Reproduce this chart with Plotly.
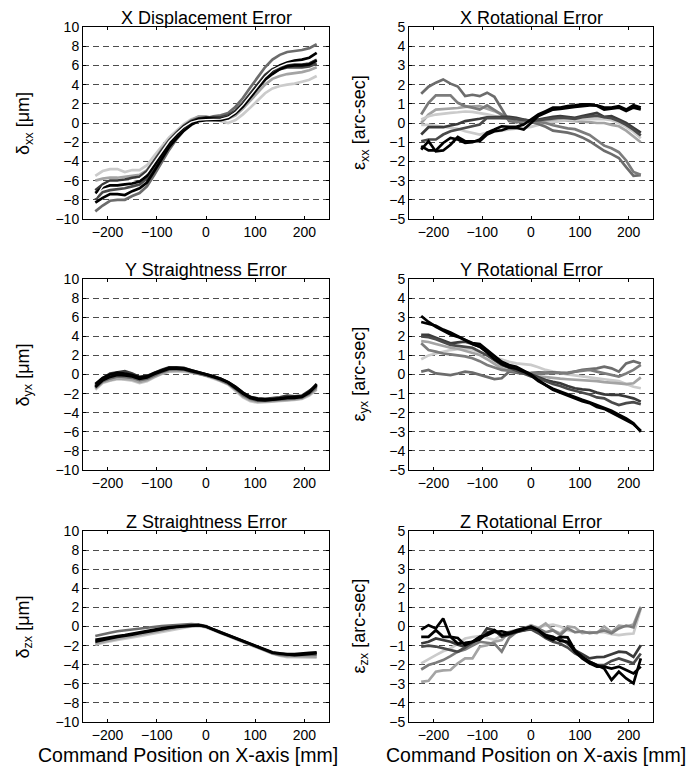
import plotly.graph_objects as go

# ---------------- data ----------------
positions = [-225, -210, -195, -180, -165, -150, -135, -120, -105, -90, -75, -60, -45, -30, -15,
             0, 15, 30, 45, 60, 75, 90, 105, 120, 135, 150, 165, 180, 195, 210, 225]

x_ticks = [-200, -100, 0, 100, 200]
micron_ticks = [-10, -8, -6, -4, -2, 0, 2, 4, 6, 8, 10]
arcsec_ticks = [-5, -4, -3, -2, -1, 0, 1, 2, 3, 4, 5]

panel_titles = ["X Displacement Error", "X Rotational Error",
                "Y Straightness Error", "Y Rotational Error",
                "Z Straightness Error", "Z Rotational Error"]
y_titles = ["δ<sub>xx</sub> [μm]", "ε<sub>xx</sub> [arc-sec]",
            "δ<sub>yx</sub> [μm]", "ε<sub>yx</sub> [arc-sec]",
            "δ<sub>zx</sub> [μm]", "ε<sub>zx</sub> [arc-sec]"]
x_title = "Command Position on X-axis [mm]"

# X displacement error [um]
xd_lightest = [-5.5, -5.0, -4.8, -4.8, -5.1, -4.9, -4.9, -4.4, -3.4, -2.4, -1.5, -0.8, -0.1, 0.4, 0.65,
               0.6, 0.4, 0.2, 0.0, 0.3, 0.9, 1.6, 2.4, 3.1, 3.6, 3.85, 4.0, 4.1, 4.3, 4.5, 4.9]
xd_light = [-6.0, -5.8, -5.7, -5.7, -5.6, -5.5, -5.4, -4.9, -3.9, -2.7, -1.8, -1.0, -0.3, 0.3, 0.7,
            0.7, 0.5, 0.4, 0.45, 0.8, 1.5, 2.3, 3.2, 4.0, 4.6, 4.9, 5.1, 5.2, 5.3, 5.5, 5.8]
xd_mid = [-9.2, -8.6, -8.1, -8.0, -8.0, -7.6, -7.3, -6.6, -5.4, -4.1, -2.8, -1.7, -0.8, -0.1, 0.3,
          0.5, 0.7, 0.8, 1.05, 1.7, 2.6, 3.7, 4.8, 5.8, 6.6, 7.1, 7.4, 7.5, 7.6, 7.8, 8.2]
xd_dark1 = [-7.0, -6.4, -6.0, -6.0, -5.9, -5.7, -5.6, -5.0, -3.9, -2.8, -1.8, -1.0, -0.3, 0.2, 0.5,
            0.6, 0.6, 0.6, 0.8, 1.3, 2.1, 3.1, 4.1, 5.0, 5.6, 5.9, 6.1, 6.1, 6.1, 6.2, 6.6]
xd_dark2 = [-8.0, -7.2, -7.0, -6.9, -6.8, -6.6, -6.4, -5.8, -4.6, -3.4, -2.3, -1.4, -0.6, -0.1, 0.3,
            0.4, 0.4, 0.5, 0.7, 1.2, 2.0, 2.9, 3.8, 4.7, 5.3, 5.6, 5.8, 5.8, 5.8, 5.9, 6.2]
xd_black1 = [-7.3, -6.7, -6.5, -6.5, -6.4, -6.3, -6.1, -5.5, -4.4, -3.2, -2.1, -1.2, -0.4, 0.1, 0.4,
             0.5, 0.45, 0.4, 0.6, 1.1, 1.9, 2.9, 3.9, 4.8, 5.5, 6.0, 6.3, 6.5, 6.6, 6.8, 7.3]
xd_black2 = [-8.3, -7.8, -7.4, -7.4, -7.5, -7.1, -6.8, -6.2, -5.0, -3.7, -2.5, -1.6, -0.8, -0.2, 0.2,
             0.3, 0.3, 0.3, 0.5, 1.0, 1.7, 2.7, 3.6, 4.5, 5.1, 5.6, 5.9, 6.0, 6.0, 6.1, 6.5]
xd_white = [-7.8, -6.6, -6.2, -6.2, -6.1, -6.0, -5.8, -5.2, -4.1, -3.0, -1.9, -1.1, -0.4, 0.1, 0.3,
            0.35, 0.35, 0.4, 0.6, 1.1, 1.9, 2.9, 3.9, 4.8, 5.5, 5.9, 6.2, 6.3, 6.3, 6.5, 6.9]

# X rotational error [arc-sec]
xr_light1 = [0.0, 0.44, 0.7, 0.72, 0.74, 0.78, 0.84, 0.86, 0.88, 0.75, 0.62, 0.44, 0.27, 0.18, 0.15,
             0.1, 0.1, 0.12, 0.15, 0.15, 0.12, 0.1, 0.1, 0.05, 0.0, 0.0, -0.1, -0.17, -0.4, -0.7, -1.0]
xr_light2 = [0.18, 0.35, 0.44, 0.5, 0.53, 0.56, 0.6, 0.58, 0.53, 0.45, 0.36, 0.25, 0.2, 0.15, 0.15,
             0.1, 0.15, 0.2, 0.25, 0.25, 0.2, 0.2, 0.25, 0.3, 0.3, 0.25, 0.2, 0.1, -0.05, -0.3, -0.55]
xr_light3 = [-0.1, -0.1, -0.15, -0.2, -0.25, -0.3, -0.43, -0.5, -0.6, -0.5, -0.43, -0.4, -0.34, -0.3, -0.25,
             -0.2, -0.1, 0.0, 0.05, 0.1, 0.15, 0.15, 0.2, 0.2, 0.2, 0.2, 0.15, 0.0, -0.2, -0.45, -0.8]
xr_mid1 = [1.52, 1.89, 2.1, 2.27, 2.05, 1.9, 1.4, 1.47, 1.4, 1.58, 1.37, 0.7, 0.1, 0.05, 0.1,
           0.05, -0.05, -0.2, -0.4, -0.45, -0.5, -0.6, -0.75, -0.95, -1.2, -1.45, -1.62, -1.82, -2.3, -2.75, -2.72]
xr_mid2 = [0.44, 1.05, 1.44, 1.44, 1.44, 1.05, 0.88, 0.8, 0.7, 0.92, 0.7, 0.44, 0.18, 0.05, 0.1,
           0.12, 0.05, 0.0, -0.12, -0.22, -0.28, -0.32, -0.45, -0.62, -0.9, -1.18, -1.32, -1.52, -1.95, -2.55, -2.7]
xr_dark1 = [-0.6, -0.22, -0.22, -0.22, -0.13, -0.05, 0.1, 0.15, 0.22, 0.3, 0.32, 0.32, 0.32, 0.27, 0.18,
            0.1, 0.18, 0.27, 0.32, 0.36, 0.32, 0.27, 0.36, 0.44, 0.53, 0.32, 0.36, 0.18, 0.0, -0.25, -0.5]
xr_dark2 = [-0.95, -0.86, -0.86, -0.6, -0.43, -0.34, -0.25, -0.17, -0.08, 0.27, 0.27, 0.28, 0.25, 0.2, 0.15,
            0.12, 0.15, 0.2, 0.25, 0.28, 0.25, 0.22, 0.3, 0.35, 0.38, 0.3, 0.25, 0.1, -0.1, -0.35, -0.65]
xr_black1 = [-1.39, -0.95, -1.48, -1.43, -1.13, -0.73, -0.95, -0.95, -0.95, -0.6, -0.43, -0.38, -0.25, -0.25, -0.34,
             0.0, 0.36, 0.53, 0.7, 0.74, 0.8, 0.84, 0.88, 0.92, 0.92, 0.8, 0.8, 0.88, 0.7, 0.92, 0.8]
xr_black2 = [-1.2, -1.43, -1.43, -1.04, -0.78, -0.86, -1.04, -1.0, -0.86, -0.5, -0.34, -0.17, -0.2, -0.2, -0.08,
             0.18, 0.44, 0.62, 0.8, 0.8, 0.88, 0.92, 0.97, 0.97, 0.9, 0.7, 0.74, 0.8, 0.62, 0.8, 0.7]

# Y straightness error [um]
ys_light2 = [-1.6, -0.9, -0.65, -0.5, -0.55, -0.65, -0.9, -0.7, -0.3, 0.05, 0.3, 0.35, 0.3, 0.2, 0.05,
             -0.15, -0.4, -0.7, -1.05, -1.7, -2.4, -2.8, -2.95, -2.9, -2.85, -2.8, -2.7, -2.65, -2.55, -2.2, -1.6]
ys_light1 = [-1.5, -0.8, -0.6, -0.4, -0.45, -0.55, -0.8, -0.6, -0.25, 0.1, 0.35, 0.4, 0.4, 0.25, 0.1,
             -0.1, -0.35, -0.65, -1.0, -1.6, -2.3, -2.7, -2.85, -2.85, -2.8, -2.7, -2.65, -2.6, -2.5, -2.1, -1.5]
ys_mid = [-1.4, -0.7, -0.4, -0.2, -0.25, -0.35, -0.6, -0.45, -0.1, 0.25, 0.5, 0.55, 0.5, 0.3, 0.15,
          -0.05, -0.3, -0.6, -0.95, -1.5, -2.15, -2.55, -2.75, -2.75, -2.7, -2.6, -2.55, -2.5, -2.4, -2.0, -1.3]
ys_dark = [-1.2, -0.4, 0.1, 0.25, 0.35, 0.1, -0.25, -0.15, 0.2, 0.5, 0.75, 0.75, 0.7, 0.45, 0.25,
           0.05, -0.2, -0.45, -0.8, -1.3, -1.9, -2.35, -2.5, -2.55, -2.5, -2.4, -2.2, -2.3, -2.2, -1.7, -1.2]
ys_black2 = [-1.3, -0.6, -0.25, -0.05, -0.1, -0.2, -0.45, -0.3, 0.05, 0.35, 0.6, 0.6, 0.55, 0.35, 0.2,
             0.0, -0.25, -0.5, -0.85, -1.4, -2.0, -2.45, -2.65, -2.7, -2.65, -2.55, -2.45, -2.45, -2.35, -1.9, -1.1]
ys_black1 = [-1.0, -0.35, 0.0, 0.2, 0.1, -0.05, -0.3, -0.2, 0.15, 0.45, 0.7, 0.72, 0.65, 0.45, 0.25,
             0.05, -0.2, -0.45, -0.8, -1.3, -1.9, -2.35, -2.55, -2.6, -2.6, -2.5, -2.4, -2.35, -2.3, -1.8, -1.0]

# Y rotational error [arc-sec]
yr_light2 = [0.8, 1.0, 1.1, 1.2, 1.28, 1.33, 1.37, 1.3, 1.15, 1.02, 0.9, 0.76, 0.66, 0.58, 0.55,
             0.5, 0.38, 0.24, 0.15, 0.06, 0.0, -0.05, -0.11, -0.15, -0.2, -0.25, -0.29, -0.35, -0.5, -0.64, -0.72]
yr_light1 = [1.75, 1.7, 1.6, 1.5, 1.4, 1.35, 1.25, 1.15, 1.02, 0.8, 0.55, 0.32, 0.2, 0.1, 0.05,
             0.0, -0.1, -0.15, -0.2, -0.22, -0.25, -0.27, -0.29, -0.3, -0.35, -0.4, -0.45, -0.46, -0.5, -0.46, -0.15]
yr_mid1 = [0.15, 0.24, 0.06, 0.0, -0.03, 0.05, 0.15, 0.1, 0.0, -0.1, -0.24, -0.2, 0.15, 0.1, 0.06,
           0.08, 0.11, 0.1, 0.11, 0.08, 0.06, 0.15, 0.24, 0.28, 0.32, 0.41, 0.32, 0.15, 0.58, 0.7, 0.58]
yr_mid2 = [1.63, 1.28, 1.2, 1.1, 1.05, 1.02, 0.95, 0.85, 0.7, 0.5, 0.35, 0.24, 0.2, 0.15, 0.1,
           0.06, 0.05, 0.06, 0.06, 0.06, 0.1, 0.15, 0.2, 0.24, 0.15, 0.06, 0.0, -0.11, 0.05, 0.24, 0.5]
yr_dark1 = [2.07, 2.07, 1.93, 1.8, 1.63, 1.68, 1.72, 1.6, 1.46, 1.2, 0.85, 0.6, 0.41, 0.25, 0.15,
            0.0, -0.15, -0.29, -0.38, -0.46, -0.6, -0.72, -0.78, -0.81, -0.95, -1.04, -1.07, -1.07, -1.15, -1.25, -1.42]
yr_dark2 = [2.0, 1.95, 1.85, 1.7, 1.55, 1.5, 1.45, 1.4, 1.2, 1.0, 0.75, 0.5, 0.35, 0.2, 0.05,
            -0.1, -0.2, -0.35, -0.5, -0.6, -0.75, -0.85, -0.95, -1.05, -1.2, -1.25, -1.45, -1.6, -1.5, -1.45, -1.56]
yr_black2 = [2.75, 2.65, 2.55, 2.35, 2.2, 2.0, 1.8, 1.6, 1.45, 1.15, 0.8, 0.55, 0.38, 0.3, 0.15,
             -0.05, -0.35, -0.55, -0.8, -0.95, -1.1, -1.25, -1.4, -1.5, -1.7, -1.8, -2.0, -2.2, -2.4, -2.6, -2.95]
yr_black1 = [3.06, 2.75, 2.5, 2.3, 2.1, 1.97, 1.8, 1.65, 1.6, 1.3, 0.95, 0.67, 0.5, 0.41, 0.2,
             0.0, -0.3, -0.55, -0.75, -0.9, -1.05, -1.2, -1.32, -1.45, -1.6, -1.77, -1.9, -2.1, -2.3, -2.55, -3.0]

# Z straightness error [um]
zs_light2 = [-1.9, -1.7, -1.55, -1.4, -1.3, -1.15, -1.0, -0.85, -0.7, -0.55, -0.4, -0.25, -0.1, 0.0, 0.05,
             -0.1, -0.4, -0.7, -1.05, -1.35, -1.65, -1.95, -2.25, -2.55, -2.85, -3.05, -3.2, -3.2, -3.2, -3.2, -3.25]
zs_light1 = [-1.8, -1.6, -1.45, -1.3, -1.15, -1.0, -0.85, -0.7, -0.55, -0.4, -0.25, -0.15, -0.05, 0.05, 0.1,
             -0.05, -0.35, -0.65, -1.0, -1.3, -1.6, -1.9, -2.2, -2.5, -2.8, -3.0, -3.1, -3.1, -3.1, -3.1, -3.15]
zs_mid = [-1.0, -0.8, -0.65, -0.5, -0.4, -0.3, -0.2, -0.1, 0.0, 0.05, 0.1, 0.15, 0.2, 0.25, 0.2,
          0.05, -0.3, -0.6, -0.9, -1.2, -1.55, -1.85, -2.15, -2.45, -2.8, -2.95, -3.0, -3.0, -3.0, -2.95, -2.95]
zs_black2 = [-1.6, -1.4, -1.25, -1.1, -1.0, -0.85, -0.7, -0.55, -0.4, -0.25, -0.15, -0.05, 0.0, 0.1, 0.15,
             0.0, -0.35, -0.65, -0.95, -1.25, -1.55, -1.85, -2.15, -2.45, -2.75, -2.85, -2.95, -3.0, -2.95, -2.85, -2.8]
zs_black1 = [-1.4, -1.25, -1.1, -1.0, -0.9, -0.75, -0.6, -0.45, -0.3, -0.2, -0.1, 0.0, 0.05, 0.1, 0.15,
             0.0, -0.3, -0.6, -0.9, -1.2, -1.5, -1.8, -2.1, -2.4, -2.7, -2.8, -2.9, -2.9, -2.8, -2.75, -2.7]

# Z rotational error [arc-sec]
zr_light2 = [-1.93, -1.7, -1.5, -1.3, -1.15, -0.9, -0.63, -0.55, -0.5, -0.6, -0.7, -0.45, -0.4, -0.25, -0.15,
             0.05, -0.05, 0.05, 0.1, 0.0, -0.2, -0.3, -0.3, -0.3, -0.28, -0.3, -0.4, -0.45, -0.4, -0.37, 0.94]
zr_light1 = [-2.9, -2.84, -2.37, -2.3, -2.28, -1.93, -1.67, -1.67, -1.06, -0.98, -0.8, -0.71, -0.28, -0.2, -0.1,
             0.07, -0.1, 0.16, -0.2, -0.37, 0.0, -0.05, -0.35, -0.3, -0.35, 0.0, -0.3, 0.05, 0.0, 0.1, 1.03]
zr_mid = [-2.25, -2.02, -1.9, -1.76, -1.55, -1.32, -1.2, -1.0, -0.8, -0.85, -0.9, -1.32, -0.6, -0.3, -0.1,
          0.0, -0.1, -0.3, -0.2, -0.45, -0.1, -0.3, -0.25, -0.35, -0.3, -0.2, -0.35, -0.1, 0.05, -0.05, 1.0]
zr_dark1 = [-0.89, -0.8, -0.63, -0.7, -0.8, -0.95, -1.06, -0.85, -0.63, -0.1, -0.2, -0.54, -0.4, -0.3, -0.2,
            -0.1, -0.3, -0.5, -0.6, -0.65, -0.9, -1.24, -1.45, -1.67, -1.6, -1.59, -1.45, -1.32, -1.35, -1.59, -0.98]
zr_dark2 = [-1.06, -1.0, -1.05, -1.15, -1.25, -1.32, -1.1, -0.8, -0.55, -0.3, -0.25, -0.45, -0.3, -0.25, -0.2,
            -0.15, -0.35, -0.6, -0.8, -0.9, -1.1, -1.41, -1.6, -1.85, -2.02, -2.02, -1.8, -1.67, -1.8, -1.93, -1.41]
zr_black2 = [-0.54, -0.54, -0.19, -0.54, -0.54, -0.89, -0.85, -0.8, -0.54, -0.45, -0.28, -0.25, -0.35, -0.2, -0.1,
             -0.05, -0.2, -0.45, -0.54, -0.75, -0.8, -1.32, -1.67, -1.93, -2.1, -2.1, -2.2, -2.1, -2.28, -2.46, -2.1]
zr_black1 = [-0.16, 0.07, -0.1, 0.42, -0.54, -0.6, -0.98, -0.8, -0.68, -0.37, -0.19, -0.45, -0.37, -0.28, -0.16,
             0.0, -0.19, -0.54, -0.71, -0.54, -0.57, -1.24, -1.59, -1.85, -2.02, -2.2, -2.8, -2.37, -2.72, -2.98, -1.67]

# ---------------- styling ----------------
C_BLACK = "#000000"
C_DARK = "#3a3a3a"
C_DARK2 = "#4a4a4a"
C_MID = "#6c6c6c"
C_MID2 = "#7c7c7c"
C_LIGHT = "#a4a4a4"
C_LIGHTEST = "#cbcbcb"
LW = 2.7

panels = [
    [(xd_lightest, C_LIGHTEST), (xd_light, C_LIGHT), (xd_mid, C_MID), (xd_dark1, C_DARK),
     (xd_dark2, C_DARK2), (xd_black1, C_BLACK), (xd_black2, C_BLACK), (xd_white, "#ffffff")],
    [(xr_light1, C_LIGHT), (xr_light2, C_LIGHTEST), (xr_light3, C_LIGHTEST), (xr_mid1, C_MID),
     (xr_mid2, C_MID2), (xr_dark1, C_DARK), (xr_dark2, C_DARK2), (xr_black1, C_BLACK), (xr_black2, C_BLACK)],
    [(ys_light2, C_LIGHTEST), (ys_light1, C_LIGHT), (ys_mid, C_MID), (ys_dark, C_DARK),
     (ys_black2, C_BLACK), (ys_black1, C_BLACK)],
    [(yr_light2, C_LIGHTEST), (yr_light1, C_LIGHT), (yr_mid1, C_MID), (yr_mid2, C_MID2),
     (yr_dark1, C_DARK), (yr_dark2, C_DARK2), (yr_black2, C_BLACK), (yr_black1, C_BLACK)],
    [(zs_light2, C_LIGHTEST), (zs_light1, C_LIGHT), (zs_mid, C_MID), (zs_black2, C_BLACK), (zs_black1, C_BLACK)],
    [(zr_light2, C_LIGHTEST), (zr_light1, C_LIGHT), (zr_mid, C_MID2), (zr_dark1, C_DARK),
     (zr_dark2, C_DARK2), (zr_black2, C_BLACK), (zr_black1, C_BLACK)],
]

W, H = 692, 770
col_px = [(83, 329), (409, 653)]
row_px = [(27, 219), (279, 470), (531, 722)]
FONT = "Liberation Sans, Arial, Helvetica, sans-serif"
TICK = dict(size=14, family=FONT, color="black")

fig = go.Figure()
layout = dict(width=W, height=H, autosize=False,
              margin=dict(l=0, r=0, t=0, b=0, pad=0, autoexpand=False),
              paper_bgcolor="white", plot_bgcolor="white", showlegend=False,
              font=dict(family=FONT, color="black", size=14))
annotations = []

for i in range(6):
    r, c = divmod(i, 2)
    n = i + 1
    xa = "xaxis" if n == 1 else f"xaxis{n}"
    ya = "yaxis" if n == 1 else f"yaxis{n}"
    xref = "x" if n == 1 else f"x{n}"
    yref = "y" if n == 1 else f"y{n}"
    for vals, col in panels[i]:
        lw = 1.4 if col == "#ffffff" else LW
        fig.add_trace(go.Scatter(x=positions, y=vals, mode="lines",
                                 line=dict(color=col, width=lw),
                                 xaxis=xref, yaxis=yref, hoverinfo="skip"))
    x0, x1 = col_px[c]
    y0, y1 = row_px[r]
    yt = micron_ticks if c == 0 else arcsec_ticks
    layout[xa] = dict(domain=[x0 / W, x1 / W], anchor=yref, range=[-250, 250],
                      tickmode="array", tickvals=x_ticks, ticks="inside", ticklen=3,
                      tickcolor="black", showline=True, linecolor="black", linewidth=1,
                      mirror="ticks", showgrid=False, zeroline=False, automargin=False,
                      tickfont=TICK)
    layout[ya] = dict(domain=[1 - y1 / H, 1 - y0 / H], anchor=xref, range=[yt[0], yt[-1]],
                      tickmode="array", tickvals=yt, ticks="inside", ticklen=3,
                      tickcolor="black", showline=True, linecolor="black", linewidth=1,
                      mirror="ticks", showgrid=True, gridcolor="#4d4d4d", gridwidth=1,
                      griddash="6px,4px", zeroline=False, automargin=False,
                      tickfont=TICK)
    # panel title
    annotations.append(dict(text=panel_titles[i], x=(x0 + x1) / 2 / W, y=1 - (y0 - 9) / H,
                            xref="paper", yref="paper", xanchor="center", yanchor="middle",
                            showarrow=False, font=dict(size=18, family=FONT, color="black")))
    # y title
    yx = 24 if c == 0 else 360
    annotations.append(dict(text=y_titles[i], x=yx / W, y=1 - (y0 + y1) / 2 / H,
                            xref="paper", yref="paper", xanchor="center", yanchor="middle",
                            textangle=-90, showarrow=False,
                            font=dict(size=18, family=FONT, color="black")))

for cx in (188, 536):
    annotations.append(dict(text=x_title, x=cx / W, y=1 - 755 / H, xref="paper", yref="paper",
                            xanchor="center", yanchor="middle", showarrow=False,
                            font=dict(size=19.5, family=FONT, color="black")))

layout["annotations"] = annotations
fig.update_layout(**layout)
fig.write_html("out.html", config={"displayModeBar": False},
               post_script="document.body.style.margin='0px';")
